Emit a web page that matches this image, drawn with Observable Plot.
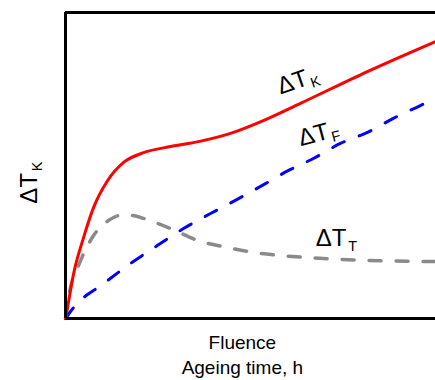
<!DOCTYPE html>
<html>
<head>
<meta charset="utf-8">
<script src="https://cdn.jsdelivr.net/npm/d3@7"></script>
<script src="https://cdn.jsdelivr.net/npm/@observablehq/plot@0.6"></script>
<style>
  html, body { margin: 0; padding: 0; background: #fff; overflow: hidden; }
  svg { display: block; }
</style>
</head>
<body>
<div id="chart"></div>
<script>
// Schematic curves (x: 0..100 arbitrary units, y: 0..100 arbitrary units)
const kX = [0, 0.54, 2.2, 4.9, 7.6, 11.4, 15.7, 21.1, 28.4, 35.9, 44.6, 54.1, 63.5, 81.6, 100];
const kY = [0, 3.6, 14.7, 26.5, 36.3, 45.1, 51, 54.2, 56.2, 57.8, 60.5, 65, 70.3, 80.7, 90.5];

const fX = [0, 2.2, 10.3, 17.6, 24.9, 31.9, 39.2, 45.9, 53.2, 60.3, 67, 74.3, 81.6, 88.6, 95.9, 100];
const fY = [0, 3.6, 11.4, 18, 23.9, 29.4, 34.3, 38.6, 43.5, 48.4, 52.3, 57.2, 60.8, 65.4, 69.6, 72];

const tX = [0, 1.35, 3.2, 4.9, 8.6, 11.6, 14.9, 18.1, 21.1, 28.4, 35.7, 43.8, 50.8, 58.1, 65.4, 81.6, 100];
const tY = [0, 10.1, 16.3, 21.2, 28.8, 32, 33.7, 33.7, 32.7, 29.4, 25.5, 23.2, 21.6, 20.6, 19.9, 19, 18.6];

const curveLabels = ["ΔT_K", "ΔT_F", "ΔT_T"];
const labelX = [62.8, 68.4, 73.2];
const labelY = [77.8, 60.5, 26.1];
const labelRotate = [-19, -15, 0];

const yLabel = "ΔT_K";
const xLabels = ["Fluence", "Ageing time, h"];

const toRows = (xs, ys) => xs.map((x, i) => ({x, y: ys[i]}));
const kData = toRows(kX, kY);
const fData = toRows(fX, fY);
const tData = toRows(tX, tY);
const labels = curveLabels.map((t, i) => ({t, x: labelX[i], y: labelY[i], r: labelRotate[i]}));

const font = "'Liberation Sans', Arial, Helvetica, sans-serif";

const chart = Plot.plot({
  width: 435,
  height: 380,
  marginTop: 12,
  marginBottom: 62,
  marginLeft: 65,
  marginRight: 0,
  style: {fontFamily: font, background: "#fff", overflow: "visible"},
  x: {domain: [0, 100], axis: null},
  y: {domain: [0, 100], axis: null},
  marks: [
    Plot.line(tData, {x: "x", y: "y", curve: "monotone-x", stroke: "#8a8a8a", strokeWidth: 3.5, strokeDasharray: "12,15"}),
    Plot.line(fData, {x: "x", y: "y", curve: "monotone-x", stroke: "#0000ff", strokeWidth: 3, strokeDasharray: "13,16"}),
    Plot.line(kData, {x: "x", y: "y", curve: "monotone-x", stroke: "#ff0000", strokeWidth: 3}),
    Plot.ruleY([0, 100], {stroke: "#000", strokeWidth: 3}),
    Plot.ruleX([0], {stroke: "#000", strokeWidth: 3}),
    ...labels.map(d => Plot.text([d], {x: "x", y: "y", text: "t", rotate: d.r, fontSize: 24, fill: "#000"})),
    Plot.text([yLabel], {frameAnchor: "left", textAnchor: "middle", lineAnchor: "middle", dx: -36, y: [44.4], text: d => d, rotate: -90, fontSize: 24, fill: "#000"}),
    Plot.text([xLabels[0]], {frameAnchor: "bottom", x: [47.8], dy: 30, text: d => d, fontSize: 19, fill: "#000"}),
    Plot.text([xLabels[1]], {frameAnchor: "bottom", x: [47.8], dy: 55, text: d => d, fontSize: 19, fill: "#000"})
  ]
});

// Render "_X" as a subscript
d3.select(chart).selectAll("text").each(function() {
  const s = this.textContent;
  const i = s.indexOf("_");
  if (i < 0) return;
  const main = s.slice(0, i), sub = s.slice(i + 1);
  const el = d3.select(this);
  el.text(null);
  el.append("tspan").text(main);
  el.append("tspan").attr("font-size", "0.6em").attr("dy", "0.3em").attr("dx", "0.12em").text(sub);
});

document.getElementById("chart").appendChild(chart);
</script>
</body>
</html>
